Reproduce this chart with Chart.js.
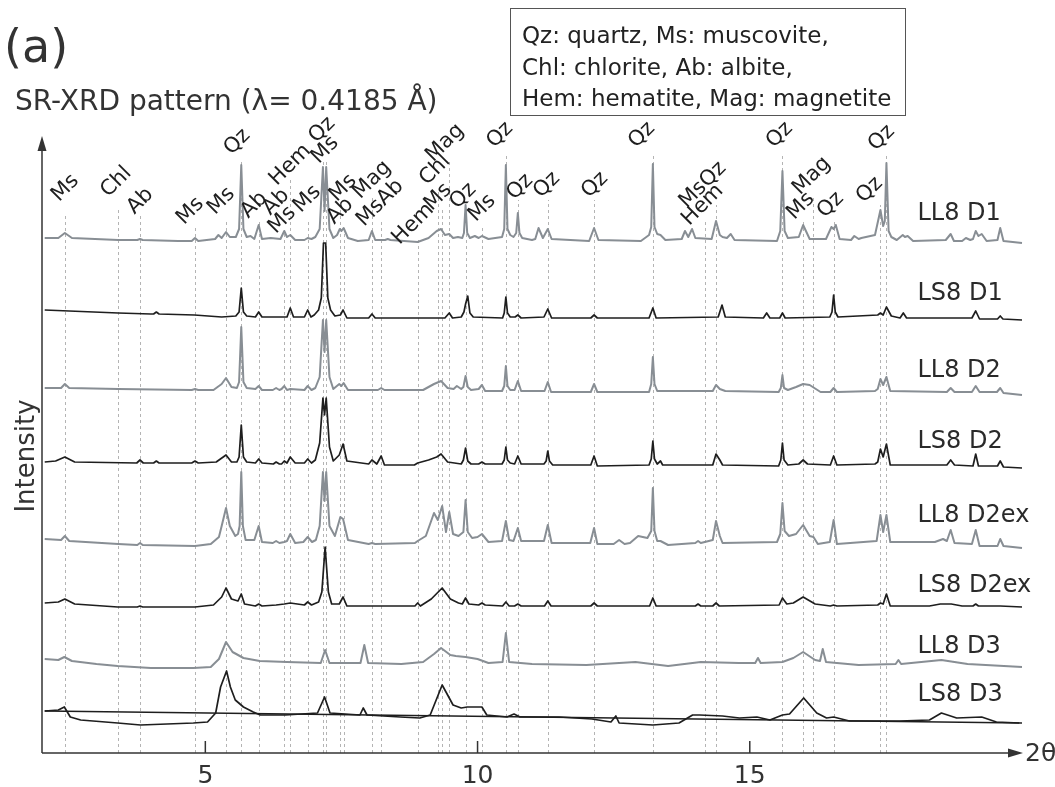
<!DOCTYPE html>
<html><head><meta charset="utf-8">
<script src="https://cdn.jsdelivr.net/npm/chart.js@4.4.1/dist/chart.umd.min.js"></script>
<style>html,body{margin:0;padding:0;background:#fff;}canvas{display:block;}</style>
</head><body>
<canvas id="c" width="1055" height="787"></canvas>
<script>
// ---- data (2θ in degrees, intensity in arbitrary units above each trace's offset) ----
const traceNames = ['LL8 D1','LS8 D1','LL8 D2','LS8 D2','LL8 D2ex','LS8 D2ex','LL8 D3','LS8 D3'];
const traceOffsets = [512, 435, 361, 288, 207, 146, 89, 30];
const traceLabelX = 18.08;
const traceLabelY = [539, 459, 382, 311, 237, 167, 106, 58];

const LL8_D1 = [[2.05,3],[2.3,3],[2.42,8],[2.55,3],[3.4,1],[3.75,1],[3.8,2],[3.85,1],[4.5,0],[4.75,0],[4.81,3],[4.87,0],[5.18,2],[5.24,6],[5.3,3],[5.38,9],[5.45,4],[5.56,4],[5.62,12],[5.66,76],[5.7,12],[5.76,4],[5.83,5],[5.9,2],[5.98,16],[6.04,2],[6.2,3],[6.38,2],[6.45,10],[6.5,4],[6.56,6],[6.65,1],[6.82,1],[6.88,3],[6.95,2],[7.02,4],[7.1,12],[7.16,74],[7.19,30],[7.22,74],[7.28,12],[7.35,3],[7.42,6],[7.47,12],[7.5,10],[7.54,13],[7.62,3],[7.8,0],[8.0,1],[8.06,10],[8.12,1],[8.3,1],[8.35,2],[8.4,1],[8.9,-1],[9.1,3],[9.25,10],[9.33,12],[9.4,6],[9.48,7],[9.55,3],[9.64,4],[9.72,3],[9.75,8],[9.78,36],[9.81,8],[9.86,3],[9.95,5],[10.02,3],[10.08,5],[10.2,2],[10.45,4],[10.49,12],[10.52,76],[10.55,12],[10.6,6],[10.66,4],[10.71,8],[10.74,28],[10.77,8],[10.82,3],[11.0,1],[11.06,2],[11.12,13],[11.2,3],[11.29,12],[11.36,2],[12.05,0],[12.14,13],[12.22,1],[13.0,0],[13.15,6],[13.19,14],[13.22,77],[13.25,14],[13.3,7],[13.36,6],[13.45,1],[13.75,2],[13.81,10],[13.87,4],[13.94,12],[14.0,3],[14.3,2],[14.38,20],[14.45,6],[14.5,4],[14.58,3],[14.65,7],[14.72,1],[15.5,0],[15.56,10],[15.6,70],[15.64,10],[15.7,3],[15.9,4],[15.98,16],[16.1,2],[16.4,2],[16.5,14],[16.54,12],[16.58,16],[16.65,2],[16.86,1],[16.92,5],[17.0,2],[17.05,3],[17.3,6],[17.4,31],[17.45,15],[17.48,20],[17.51,78],[17.55,10],[17.6,4],[17.7,1],[17.81,6],[17.85,4],[17.9,5],[18.0,0],[18.6,1],[18.69,7],[18.75,0],[18.9,0],[18.97,3],[19.05,1],[19.1,2],[19.15,10],[19.2,5],[19.26,7],[19.35,0],[19.55,1],[19.6,13],[19.66,0],[20.0,-2]];

const LS8_D1 = [[2.05,8],[2.5,7],[3.4,5],[4.0,4],[4.05,4],[4.1,6],[4.15,4],[4.8,3],[5.3,1],[5.56,2],[5.62,6],[5.66,30],[5.7,6],[5.76,2],[5.92,1],[5.98,6],[6.04,1],[6.5,1],[6.56,10],[6.62,1],[6.82,1],[6.88,8],[6.94,1],[7.0,3],[7.08,8],[7.13,20],[7.17,75],[7.21,75],[7.25,20],[7.3,8],[7.38,2],[7.48,3],[7.53,8],[7.6,0],[8.0,0],[8.06,4],[8.12,0],[9.4,0],[9.48,5],[9.54,0],[9.7,1],[9.75,6],[9.78,14],[9.82,22],[9.86,5],[9.92,1],[10.46,0],[10.49,5],[10.52,21],[10.55,5],[10.6,1],[10.69,1],[10.74,3],[10.8,0],[11.22,1],[11.29,9],[11.36,0],[12.08,0],[12.14,3],[12.2,0],[13.15,0],[13.22,10],[13.28,0],[14.42,1],[14.49,13],[14.55,1],[15.25,0],[15.31,5],[15.37,0],[15.55,0],[15.6,5],[15.65,0],[16.47,1],[16.51,6],[16.54,23],[16.57,6],[16.62,1],[17.35,3],[17.4,5],[17.45,3],[17.51,11],[17.6,2],[17.76,0],[17.82,5],[17.88,0],[19.08,0],[19.15,7],[19.22,-1],[19.55,-1],[19.6,2],[19.65,-1],[20.0,-2]];

const LL8_D2 = [[2.05,4],[2.35,4],[2.42,8],[2.5,4],[3.4,3],[4.75,2],[4.81,3],[4.87,2],[5.15,2],[5.3,8],[5.38,14],[5.48,5],[5.58,4],[5.62,10],[5.66,65],[5.7,10],[5.76,4],[5.92,3],[5.98,6],[6.04,2],[6.24,2],[6.3,4],[6.36,2],[6.4,3],[6.45,6],[6.5,2],[6.56,3],[6.82,2],[6.88,6],[6.95,2],[7.02,4],[7.1,15],[7.16,72],[7.19,40],[7.22,72],[7.28,15],[7.35,3],[7.46,8],[7.5,6],[7.54,9],[7.62,2],[8.17,2],[8.23,4],[8.29,2],[8.35,2],[9.0,2],[9.2,8],[9.33,11],[9.45,4],[9.56,3],[9.62,6],[9.7,3],[9.74,5],[9.78,16],[9.82,5],[9.88,2],[10.02,3],[10.08,7],[10.14,1],[10.45,1],[10.49,6],[10.52,26],[10.55,6],[10.6,2],[10.68,2],[10.74,11],[10.8,1],[11.23,1],[11.29,10],[11.35,0],[12.08,0],[12.14,8],[12.2,0],[13.15,0],[13.19,8],[13.22,35],[13.25,8],[13.3,1],[14.32,1],[14.38,7],[14.45,3],[14.55,1],[15.53,0],[15.57,4],[15.6,17],[15.63,4],[15.7,2],[15.85,5],[15.98,8],[16.1,7],[16.3,0],[16.48,0],[16.54,4],[16.6,0],[17.3,1],[17.35,3],[17.4,13],[17.45,7],[17.51,15],[17.58,1],[18.62,0],[18.69,4],[18.76,0],[19.08,0],[19.15,6],[19.22,0],[19.54,0],[19.6,4],[19.66,-1],[20.0,-3]];

const LS8_D2 = [[2.05,3],[2.25,4],[2.42,8],[2.6,3],[3.74,2],[3.8,5],[3.86,2],[4.05,2],[4.1,4],[4.15,2],[4.75,2],[4.81,4],[4.87,2],[5.2,3],[5.38,10],[5.48,3],[5.58,3],[5.62,8],[5.66,40],[5.7,8],[5.76,3],[5.92,2],[5.98,6],[6.04,2],[6.25,1],[6.3,3],[6.36,1],[6.4,1],[6.45,4],[6.5,2],[6.56,8],[6.65,2],[6.82,2],[6.88,6],[6.95,2],[7.02,5],[7.1,22],[7.16,67],[7.19,50],[7.22,67],[7.28,18],[7.35,4],[7.46,10],[7.53,21],[7.6,4],[8.0,1],[8.06,5],[8.15,1],[8.23,9],[8.29,0],[8.84,0],[8.9,2],[9.1,5],[9.25,8],[9.33,11],[9.45,3],[9.7,1],[9.74,5],[9.78,17],[9.82,4],[9.88,1],[10.02,1],[10.08,3],[10.14,1],[10.45,1],[10.49,5],[10.52,18],[10.55,5],[10.6,2],[10.68,1],[10.74,9],[10.8,1],[11.22,1],[11.26,4],[11.29,14],[11.32,4],[11.38,0],[12.08,0],[12.14,9],[12.2,-1],[13.15,0],[13.19,6],[13.22,24],[13.25,6],[13.3,1],[13.36,4],[13.4,0],[14.32,0],[14.38,11],[14.45,5],[14.5,0],[15.53,-1],[15.57,5],[15.6,22],[15.63,5],[15.7,0],[15.9,1],[15.98,5],[16.06,1],[16.48,0],[16.54,9],[16.6,0],[17.3,1],[17.35,3],[17.4,16],[17.45,8],[17.51,21],[17.58,0],[18.62,0],[18.69,5],[18.76,0],[19.1,-1],[19.15,11],[19.2,-1],[19.55,-1],[19.6,4],[19.66,-2],[20.0,-3]];

const LL8_D2ex = [[2.05,7],[2.35,6],[2.42,10],[2.5,5],[3.4,2],[3.75,1],[3.8,3],[3.85,1],[4.81,0],[5.1,2],[5.25,9],[5.3,20],[5.38,38],[5.45,20],[5.55,10],[5.6,12],[5.63,20],[5.66,74],[5.69,20],[5.74,6],[5.9,6],[5.98,20],[6.04,4],[6.24,3],[6.3,5],[6.36,3],[6.45,4],[6.5,5],[6.56,12],[6.65,3],[6.8,4],[6.88,9],[6.96,4],[7.03,6],[7.1,20],[7.16,74],[7.19,45],[7.22,74],[7.28,20],[7.38,10],[7.48,29],[7.53,27],[7.62,6],[8.0,2],[8.06,3],[8.12,2],[8.85,3],[8.9,5],[9.05,10],[9.2,33],[9.27,26],[9.35,40],[9.42,14],[9.48,34],[9.55,12],[9.65,10],[9.74,14],[9.78,46],[9.82,14],[9.9,8],[10.0,9],[10.08,12],[10.2,4],[10.45,5],[10.52,25],[10.58,6],[10.66,5],[10.74,18],[10.8,5],[11.22,5],[11.29,21],[11.36,3],[12.07,3],[12.14,18],[12.2,2],[12.5,2],[12.6,6],[12.7,2],[12.8,3],[12.95,10],[13.12,8],[13.19,15],[13.22,58],[13.25,15],[13.3,5],[13.36,5],[13.5,1],[14.0,3],[14.05,5],[14.1,3],[14.32,6],[14.38,25],[14.45,10],[14.5,3],[15.5,4],[15.56,12],[15.6,43],[15.64,15],[15.72,10],[15.85,12],[15.98,21],[16.1,10],[16.17,9],[16.25,2],[16.47,4],[16.54,26],[16.6,2],[17.33,5],[17.4,31],[17.45,14],[17.51,31],[17.58,4],[18.4,4],[18.55,7],[18.62,5],[18.69,16],[18.76,3],[19.08,2],[19.15,16],[19.22,0],[19.55,0],[19.6,7],[19.66,0],[20.0,-2]];

const LS8_D2ex = [[2.05,4],[2.3,5],[2.42,8],[2.6,3],[3.39,0],[3.75,0],[3.8,1],[3.85,0],[4.81,0],[5.15,2],[5.3,10],[5.38,19],[5.48,8],[5.6,6],[5.66,13],[5.72,3],[5.92,1],[5.98,3],[6.04,1],[6.3,2],[6.45,3],[6.56,4],[6.82,2],[6.88,5],[6.95,2],[7.08,5],[7.14,15],[7.2,60],[7.26,15],[7.32,3],[7.46,3],[7.53,10],[7.6,1],[8.06,1],[8.85,1],[8.9,4],[8.95,1],[9.15,8],[9.35,19],[9.5,8],[9.65,4],[9.72,3],[9.78,9],[9.84,3],[10.02,2],[10.08,4],[10.14,2],[10.46,1],[10.52,5],[10.58,1],[10.68,1],[10.74,3],[10.8,1],[11.23,1],[11.29,6],[11.35,1],[12.08,1],[12.14,4],[12.2,1],[13.16,1],[13.22,9],[13.28,1],[14.0,1],[14.05,3],[14.1,1],[14.32,1],[14.38,4],[14.44,1],[15.54,2],[15.6,9],[15.68,3],[15.8,4],[15.98,10],[16.2,3],[16.48,1],[16.54,2],[16.6,1],[17.35,2],[17.4,4],[17.45,3],[17.51,13],[17.58,1],[18.3,1],[18.5,3],[18.7,3],[18.9,1],[19.1,1],[19.15,3],[19.2,1],[19.6,1],[20.0,0]];

const LL8_D3 = [[2.05,5],[2.3,4],[2.41,7],[2.55,3],[3.0,0],[3.39,-2],[4.0,-4],[4.78,-4],[5.1,-3],[5.25,5],[5.38,22],[5.5,12],[5.7,6],[6.0,3],[6.5,2],[7.12,1],[7.2,14],[7.28,1],[7.85,1],[7.92,19],[7.99,1],[8.6,0],[9.0,2],[9.2,10],[9.33,16],[9.5,9],[9.6,8],[9.78,7],[10.0,5],[10.2,1],[10.46,2],[10.52,31],[10.58,2],[11.0,0],[12.0,-1],[12.9,2],[13.5,-2],[14.1,2],[14.8,1],[15.1,1],[15.15,6],[15.2,1],[15.6,2],[15.8,6],[15.98,12],[16.2,4],[16.29,3],[16.34,15],[16.4,2],[17.0,-1],[17.68,0],[17.73,4],[17.78,0],[18.52,4],[19.0,0],[20.0,-3]];

const LS8_D3 = [[2.05,12],[2.3,13],[2.41,16],[2.52,6],[2.71,3],[3.39,0],[3.81,-2],[4.78,0],[5.04,1],[5.19,10],[5.28,36],[5.39,52],[5.46,36],[5.55,23],[5.7,16],[5.88,11],[6.01,8],[6.47,8],[7.06,10],[7.19,26],[7.29,10],[7.84,8],[7.9,15],[7.97,8],[8.58,6],[8.94,5],[9.13,8],[9.35,38],[9.55,18],[9.7,15],[9.81,16],[10.08,16],[10.17,8],[10.54,6],[10.67,9],[10.78,6],[11.5,6],[12.1,4],[12.45,1],[12.54,7],[12.6,0],[13.22,-2],[13.7,0],[13.95,8],[14.08,8],[14.5,7],[14.81,5],[15.13,6],[15.37,3],[15.6,8],[15.73,9],[15.99,25],[16.23,10],[16.41,5],[16.54,6],[16.83,2],[17.75,2],[18.3,3],[18.52,10],[18.8,5],[19.26,6],[19.53,1],[19.95,0]];

const LS8_D3_background = [[2.05,12],[20.0,0]];

const xTicks = [5, 10, 15];

const refLineX   = [2.42,3.39,3.80,4.81,5.38,5.66,5.98,6.45,6.56,6.88,7.16,7.22,7.48,7.54,8.06,8.23,8.91,9.27,9.35,9.48,9.78,10.08,10.52,10.74,11.29,12.14,13.22,14.17,14.38,15.60,15.98,16.17,16.54,17.40,17.51];
const refLineTop = [538,543,540,525,531,593,531,521,573,531,593,591,548,528,558,533,513,563,543,593,541,528,598,553,553,553,598,531,548,598,533,558,533,548,598];

const mineralText = ['Ms','Chl','Ab','Ms','Ms','Qz','Ab','Ab','Ms','Hem','Ms','Qz','Ms','Ms','Ab','Mag','MsAb','Hem','Ms','Chl','Mag','Qz','Ms','Qz','Qz','Qz','Qz','Qz','MsQz','Hem','Qz','Ms','Mag','Qz','Qz','Qz'];
const mineralX = [2.431,3.367,3.807,4.725,5.294,5.587,5.899,6.303,6.413,6.56,6.872,7.147,7.202,7.532,7.477,8.064,8.211,8.817,9.275,9.22,9.404,9.734,10.083,10.413,10.78,11.275,12.156,13.018,14.138,14.138,15.55,15.936,16.138,16.486,17.202,17.422];
const mineralY = [565,571,552,542,552,611,548,551,533,588,554,623,603,565,542,573,550,529,556,583,610,557,545,618,566,568,568,618,568,548,618,547,577,548,563,615];

// ---- chart ----
const series = [LL8_D1, LS8_D1, LL8_D2, LS8_D2, LL8_D2ex, LS8_D2ex, LL8_D3, LS8_D3];
const GRAY = 'rgb(136,142,148)', BLACK = '#1e1e1e';
const FONT = '"DejaVu Sans", Verdana, sans-serif';

const datasets = series.map((s, i) => ({
  label: traceNames[i],
  data: s.map(p => ({x: p[0], y: p[1] + traceOffsets[i]})),
  borderColor: traceNames[i].startsWith('LL') ? GRAY : BLACK,
  borderWidth: traceNames[i].startsWith('LL') ? 2 : 1.7,
  pointRadius: 0, tension: 0, fill: false, clip: false, borderJoinStyle: 'round'
}));
datasets.push({
  label: 'LS8 D3 background',
  data: LS8_D3_background.map(p => ({x: p[0], y: p[1] + traceOffsets[7]})),
  borderColor: BLACK, borderWidth: 1.4, pointRadius: 0, tension: 0, fill: false, clip: false
});

const decor = {
  id: 'decor',
  beforeDatasetsDraw(chart) {
    const {ctx, scales: {x, y}} = chart;
    ctx.save();
    ctx.strokeStyle = '#b4b4b4';
    ctx.lineWidth = 1;
    ctx.setLineDash([3, 3]);
    refLineX.forEach((v, i) => {
      const px = Math.round(x.getPixelForValue(v)) + 0.5;
      ctx.beginPath();
      ctx.moveTo(px, y.getPixelForValue(0));
      ctx.lineTo(px, y.getPixelForValue(refLineTop[i]));
      ctx.stroke();
    });
    ctx.restore();
  },
  afterDraw(chart) {
    const {ctx, chartArea, scales: {x, y}} = chart;
    const x0 = x.getPixelForValue(2), y0 = y.getPixelForValue(0);
    ctx.save();
    ctx.strokeStyle = '#333'; ctx.fillStyle = '#333'; ctx.lineWidth = 1.5;
    // x axis
    const xTip = chartArea.right + 1;
    ctx.beginPath(); ctx.moveTo(x0, y0); ctx.lineTo(xTip - 10, y0); ctx.stroke();
    ctx.beginPath(); ctx.moveTo(xTip, y0); ctx.lineTo(xTip - 15, y0 - 4.5); ctx.lineTo(xTip - 15, y0 + 4.5); ctx.closePath(); ctx.fill();
    // y axis
    const yTip = chartArea.top - 4;
    ctx.beginPath(); ctx.moveTo(x0, y0); ctx.lineTo(x0, yTip + 10); ctx.stroke();
    ctx.beginPath(); ctx.moveTo(x0, yTip); ctx.lineTo(x0 - 4.5, yTip + 15); ctx.lineTo(x0 + 4.5, yTip + 15); ctx.closePath(); ctx.fill();
    // ticks
    ctx.font = '25px ' + FONT; ctx.textAlign = 'center'; ctx.textBaseline = 'middle';
    xTicks.forEach(t => {
      const px = x.getPixelForValue(t);
      ctx.beginPath(); ctx.moveTo(px, y0); ctx.lineTo(px, y0 - 12); ctx.stroke();
      ctx.fillText(String(t), px, y0 + 23);
    });
    ctx.textAlign = 'left';
    ctx.fillText('2θ', xTip + 2, y0 + 1);
    // Intensity
    ctx.save(); ctx.translate(27, 456); ctx.rotate(-Math.PI / 2);
    ctx.font = '26px ' + FONT;
    ctx.textAlign = 'center'; ctx.fillText('Intensity', 0, 0); ctx.restore();
    // title texts
    ctx.textAlign = 'left'; ctx.textBaseline = 'alphabetic';
    ctx.font = '46px ' + FONT; ctx.fillText('(a)', 4, 62);
    ctx.font = '28px ' + FONT; ctx.fillText('SR-XRD pattern (λ= 0.4185 Å)', 15, 110);
    // legend box
    ctx.lineWidth = 1; ctx.strokeStyle = '#555';
    ctx.strokeRect(510.5, 8.5, 395, 107);
    ctx.font = '23px ' + FONT; ctx.fillStyle = '#222';
    ctx.fillText('Qz: quartz, Ms: muscovite,', 522, 43);
    ctx.fillText('Chl: chlorite, Ab: albite,', 522, 75);
    ctx.fillText('Hem: hematite, Mag: magnetite', 522, 106);
    // trace labels
    ctx.font = '24px ' + FONT; ctx.textBaseline = 'middle'; ctx.fillStyle = '#2a2a2a';
    traceNames.forEach((n, i) => ctx.fillText(n, x.getPixelForValue(traceLabelX), y.getPixelForValue(traceLabelY[i])));
    // mineral labels
    ctx.font = '21px ' + FONT; ctx.textAlign = 'center'; ctx.fillStyle = '#1e1e1e';
    mineralText.forEach((t, i) => {
      ctx.save();
      ctx.translate(x.getPixelForValue(mineralX[i]), y.getPixelForValue(mineralY[i]));
      ctx.rotate(-Math.PI / 4);
      ctx.fillText(t, 0, 0);
      ctx.restore();
    });
    ctx.restore();
  }
};

new Chart(document.getElementById('c'), {
  type: 'line',
  data: {datasets},
  options: {
    responsive: false, animation: false, devicePixelRatio: 1,
    layout: {padding: {left: 42, right: 33, top: 140, bottom: 34}},
    scales: {
      x: {type: 'linear', min: 2, max: 20, display: false},
      y: {type: 'linear', min: 0, max: 613, display: false}
    },
    plugins: {legend: {display: false}, tooltip: {enabled: false}}
  },
  plugins: [decor]
});
</script></body></html>
